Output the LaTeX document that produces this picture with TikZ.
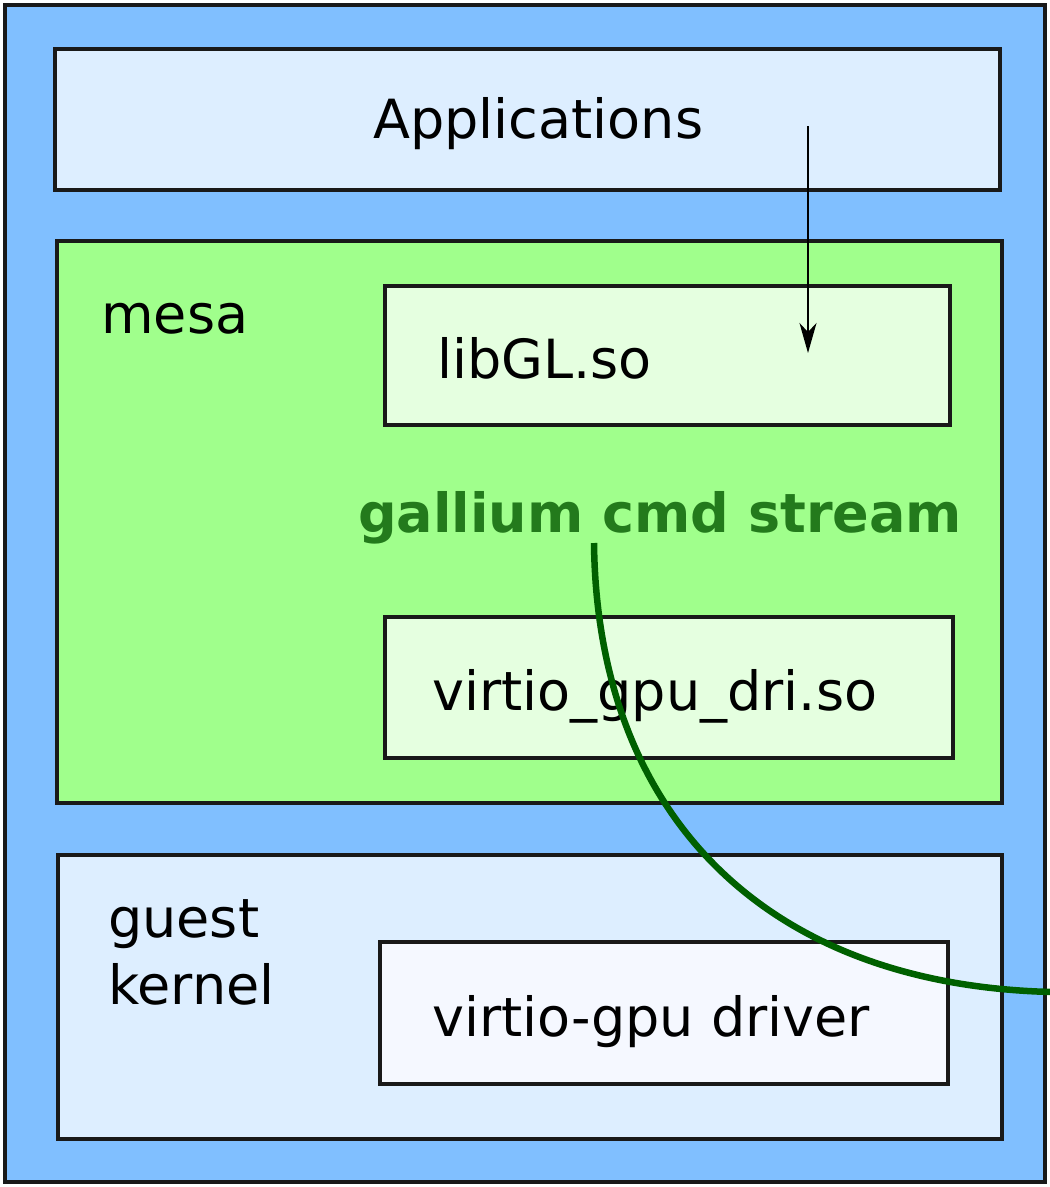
\documentclass[tikz,border=0pt]{standalone}
\usepackage{fontspec}
\setmainfont{DejaVu Sans}
\usetikzlibrary{arrows.meta}
\definecolor{outerblue}{HTML}{80BFFF}
\definecolor{paleblue}{HTML}{DDEEFF}
\definecolor{meshgreen}{HTML}{A0FF8C}
\definecolor{palegreen}{HTML}{E5FFE0}
\definecolor{drvwhite}{HTML}{F5F8FF}
\definecolor{streamgreen}{HTML}{237A1C}
\definecolor{curvegreen}{HTML}{006000}
\tikzset{
  box/.style={draw=black!90, line width=3.5pt, rectangle, inner sep=0pt},
  lbl/.style={anchor=base west, inner sep=0pt, font=\fontsize{54}{64}\selectfont},
}
\begin{document}
\begin{tikzpicture}[x=1pt,y=-1pt]
\useasboundingbox (0,0) rectangle (1050,1187);
\fill[white] (0,0) rectangle (1050,1187);
\node[box, fill=outerblue, minimum width=1040pt, minimum height=1177pt, anchor=north west] (outer) at (3,3) {};
\node[box, fill=paleblue, minimum width=945pt, minimum height=141pt, anchor=north west] (apps) at (53,47) {};
\node[box, fill=meshgreen, minimum width=945pt, minimum height=562pt, anchor=north west] (mesa) at (55,239) {};
\node[box, fill=palegreen, minimum width=565pt, minimum height=139pt, anchor=north west] (libgl) at (383,284) {};
\node[box, fill=palegreen, minimum width=568pt, minimum height=141pt, anchor=north west] (dri) at (383,615) {};
\node[box, fill=paleblue, minimum width=944pt, minimum height=284pt, anchor=north west] (kernel) at (56,853) {};
\node[box, fill=drvwhite, minimum width=568pt, minimum height=142pt, anchor=north west] (driver) at (378,940) {};

\node[lbl] (tapps) at (373,138) {Applications};
\node[lbl] (tmesa) at (101,333) {mesa};
\node[lbl] (tlibgl) at (437,378) {libGL.so};
\node[lbl, text=streamgreen, font=\fontsize{54}{64}\selectfont\bfseries] (tstream) at (358,532) {gallium cmd stream};
\node[lbl] (tdri) at (432,710) {virtio\_gpu\_dri.so};
\node[lbl] (tguest) at (108,937) {guest};
\node[lbl] (tkern) at (108,1004) {kernel};
\node[lbl] (tdriver) at (432,1036) {virtio-gpu driver};

\coordinate (arrS) at (808,126);
\coordinate (arrE) at (808,353);
\draw[line width=2pt, -{Stealth[length=30pt,width=17pt,inset=9pt]}] (arrS) -- (arrE);

\coordinate (cS) at (594,543);
\coordinate (cE) at (1052,992);
\draw[curvegreen, line width=6.5pt] (cS) .. controls (597,810) and (760,985) .. (cE);
\end{tikzpicture}
\end{document}
